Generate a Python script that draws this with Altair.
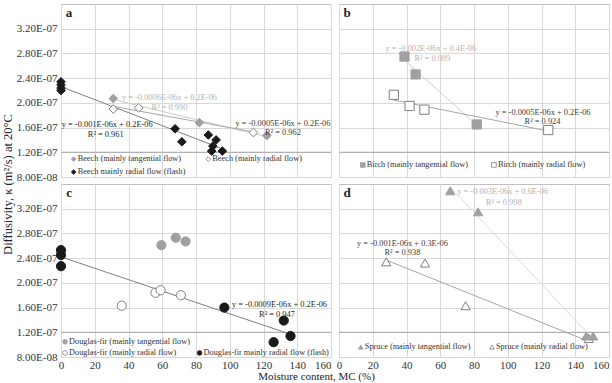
import altair as alt
import pandas as pd

# ---------------------------------------------------------------
# Thermal diffusivity (m^2/s) versus moisture content (%)
# ---------------------------------------------------------------
# Beech
beech_tan_mc = [31.0, 82.0, 122.0]
beech_tan_k = [2.07e-7, 1.68e-7, 1.47e-7]
beech_rad_mc = [31.0, 46.0, 114.0]
beech_rad_k = [1.90e-7, 1.92e-7, 1.52e-7]
beech_flash_mc = [0.0, 0.0, 0.0, 0.0, 67.6, 71.6, 87.3, 91.9, 90.0, 89.3, 95.6]
beech_flash_k = [2.34e-7, 2.29e-7, 2.24e-7, 2.20e-7, 1.58e-7, 1.37e-7,
                 1.48e-7, 1.40e-7, 1.30e-7, 1.22e-7, 1.22e-7]
# Birch
birch_tan_mc = [38.8, 45.4, 81.6]
birch_tan_k = [2.75e-7, 2.46e-7, 1.65e-7]
birch_rad_mc = [32.5, 41.8, 50.6, 124.0]
birch_rad_k = [2.13e-7, 1.95e-7, 1.89e-7, 1.56e-7]
# Douglas-fir
dfir_tan_mc = [59.5, 68.0, 73.8]
dfir_tan_k = [2.61e-7, 2.73e-7, 2.67e-7]
dfir_rad_mc = [36.0, 56.0, 59.0, 71.0]
dfir_rad_k = [1.63e-7, 1.84e-7, 1.88e-7, 1.80e-7]
dfir_flash_mc = [0.0, 0.0, 0.0, 96.8, 126.0, 132.0, 136.0]
dfir_flash_k = [2.53e-7, 2.45e-7, 2.27e-7, 1.60e-7, 1.04e-7, 1.39e-7, 1.14e-7]
# Spruce
spruce_tan_mc = [65.9, 82.4, 146.5, 150.6]
spruce_tan_k = [3.49e-7, 3.15e-7, 1.14e-7, 1.14e-7]
spruce_rad_mc = [28.0, 51.0, 75.0, 148.0]
spruce_rad_k = [2.34e-7, 2.32e-7, 1.63e-7, 1.10e-7]

# Axis ticks
x_ticks = [0, 20, 40, 60, 80, 100, 120, 140, 160]
y_ticks = [8e-8, 1.2e-7, 1.6e-7, 2.0e-7, 2.4e-7, 2.8e-7, 3.2e-7]
X_DOMAIN = [0, 160]
Y_DOMAIN = [8e-8, 3.6e-7]

# Trend-line equations: (series key, equation, R^2 text, eq position, R^2 position)
beech_eqs = [
    ("tan", "y = -0.0006E-06x + 0.2E-06", "R² = 0.990", (64.3, 2.10e-7), (64.3, 1.94e-7)),
    ("rad", "y = -0.0005E-06x + 0.2E-06", "R² = 0.962", (131.5, 1.68e-7), (131.5, 1.53e-7)),
    ("flash", "y = -0.001E-06x + 0.2E-06", "R² = 0.961", (27.4, 1.65e-7), (26.5, 1.50e-7)),
]
birch_eqs = [
    ("tan", "y = -0.002E-06x + 0.4E-06", "R² = 0.989", (54.4, 2.88e-7), (55.3, 2.73e-7)),
    ("rad", "y = -0.0005E-06x + 0.2E-06", "R² = 0.924", (120.9, 1.86e-7), (120.6, 1.71e-7)),
]
dfir_eqs = [
    ("flash", "y = -0.0009E-06x + 0.2E-06", "R² = 0.947", (129.5, 1.665e-7), (128.0, 1.50e-7)),
]
spruce_eqs = [
    ("tan", "y = -0.003E-06x + 0.6E-06", "R² = 0.998", (97.0, 3.48e-7), (97.6, 3.31e-7)),
    ("rad", "y = -0.001E-06x + 0.3E-06", "R² = 0.938", (37.6, 2.64e-7), (37.6, 2.50e-7)),
]

# Legend entries: (series key, text, anchor)
beech_legend = [
    ("tan", "Beech (mainly tangential flow)", (7.5, 1.09e-7)),
    ("rad", "Beech (mainly radial flow)", (87.3, 1.09e-7)),
    ("flash", "Beech mainly radial flow (flash)", (7.5, 0.88e-7)),
]
birch_legend = [
    ("tan", "Birch (mainly tangential flow)", (14.1, 0.995e-7)),
    ("rad", "Birch (mainly radial flow)", (91.8, 0.995e-7)),
]
dfir_legend = [
    ("tan", "Douglas-fir (mainly tangential flow)", (2.4, 1.045e-7)),
    ("rad", "Douglas-fir (mainly radial flow)", (2.4, 0.865e-7)),
    ("flash", "Douglas-fir mainly radial flow (flash)", (82.1, 0.865e-7)),
]
spruce_legend = [
    ("tan", "Spruce (mainly tangential flow)", (12.9, 0.96e-7)),
    ("rad", "Spruce (mainly radial flow)", (90.6, 0.96e-7)),
]

# ---------------------------------------------------------------
# Styling
# ---------------------------------------------------------------
FONT = "Liberation Serif"
GRID = "#d9d9d9"
FRAME = "#bfbfbf"
BOX = "#a6a6a6"
TEXT = "#333333"
W, H = 270, 173

MARKER = {
    "tan": dict(fill="#a0a0a0", stroke="#a0a0a0"),
    "rad": dict(fill="#ffffff", stroke="#7f7f7f"),
    "flash": dict(fill="#1a1a1a", stroke="#1a1a1a"),
}
EQ_COLOR = {"tan": "#b3b3b3", "rad": "#404040", "flash": "#262626"}


def x_enc(show_labels, title=None, flush_last=False, title_pos=None):
    kw = dict(values=x_ticks, grid=True, gridColor=GRID, gridWidth=1,
              domain=False, ticks=False, labels=show_labels,
              labelFont=FONT, labelFontSize=11, labelColor=TEXT, labelPadding=2)
    if flush_last:
        kw["labelAlign"] = {"condition": {"test": "datum.value === 160", "value": "right"},
                            "value": "center"}
    if title:
        kw.update(title=title, titleFont=FONT, titleFontSize=11, titleFontWeight="normal",
                  titleColor="#222222", titleBaseline="middle",
                  titleX=title_pos[0], titleY=title_pos[1])
    else:
        kw["title"] = None
    return alt.X("mc:Q", scale=alt.Scale(domain=X_DOMAIN, nice=False, zero=False),
                 axis=alt.Axis(**kw))


def y_enc(show_labels, title=None, title_pos=None):
    kw = dict(values=y_ticks, grid=True, gridColor=GRID, gridWidth=1,
              domain=False, ticks=False, labels=show_labels,
              labelFont=FONT, labelFontSize=11, labelColor=TEXT, labelPadding=4,
              labelExpr="replace(upper(format(datum.value, '.2e')), 'E-', 'E-0')")
    if title:
        kw.update(title=title, titleFont=FONT, titleFontSize=12.5, titleFontWeight="normal",
                  titleColor="#222222", titleX=title_pos[0], titleY=title_pos[1])
    else:
        kw["title"] = None
    return alt.Y("k:Q", scale=alt.Scale(domain=Y_DOMAIN, nice=False, zero=False),
                 axis=alt.Axis(**kw))


def frame(mc, k):
    return pd.DataFrame({"mc": mc, "k": k})


def panel(letter, shape, series, trends, eqs, legend, xe, ye):
    layers = []
    # top edge of the in-plot legend box
    layers.append(
        alt.Chart(frame([0], [1.2e-7])).mark_rule(color=BOX, strokeWidth=1)
        .encode(y=ye)
    )
    # linear trend lines
    for key, color in trends:
        mc, k = series[key]
        layers.append(
            alt.Chart(frame(mc, k)).transform_regression("mc", "k")
            .mark_line(color=color, strokeWidth=1)
            .encode(x=xe, y=ye)
        )
    # measured points (white series first, dark on top)
    for key in ["rad", "tan", "flash"]:
        if key not in series:
            continue
        mc, k = series[key]
        st = MARKER[key]
        layers.append(
            alt.Chart(frame(mc, k)).mark_point(
                shape=shape, filled=True, fill=st["fill"], stroke=st["stroke"],
                strokeWidth=1, size=85 if shape != "diamond" else 75, opacity=1)
            .encode(x=xe, y=ye)
        )
    # equations and R^2
    for key, eq, r2, p_eq, p_r2 in eqs:
        df = pd.DataFrame({"mc": [p_eq[0], p_r2[0]], "k": [p_eq[1], p_r2[1]], "t": [eq, r2]})
        layers.append(
            alt.Chart(df).mark_text(font=FONT, fontSize=8.4, color=EQ_COLOR[key],
                                    align="center", baseline="middle")
            .encode(x=xe, y=ye, text="t:N")
        )
    # legend entries
    for key, label, pos in legend:
        st = MARKER[key]
        layers.append(
            alt.Chart(frame([pos[0]], [pos[1]])).mark_point(
                shape=shape, filled=True, fill=st["fill"], stroke=st["stroke"],
                strokeWidth=0.8, size=22, opacity=1)
            .encode(x=xe, y=ye)
        )
        layers.append(
            alt.Chart(pd.DataFrame({"mc": [pos[0]], "k": [pos[1]], "t": [label]}))
            .mark_text(font=FONT, fontSize=8.3, color=TEXT, align="left",
                       baseline="middle", dx=4)
            .encode(x=xe, y=ye, text="t:N")
        )
    # panel letter
    layers.append(
        alt.Chart(pd.DataFrame({"mc": [4.8], "k": [3.46e-7], "t": [letter]}))
        .mark_text(font=FONT, fontSize=13, fontWeight="bold", color="#222222",
                   align="center", baseline="middle")
        .encode(x=xe, y=ye, text="t:N")
    )
    return alt.layer(*layers).properties(width=W, height=H)


Y_TITLE = "Diffusivity, κ (m²/s) at 20°C"
X_TITLE = "Moisture content, MC (%)"

pa = panel("a", "diamond",
           {"tan": (beech_tan_mc, beech_tan_k), "rad": (beech_rad_mc, beech_rad_k),
            "flash": (beech_flash_mc, beech_flash_k)},
           [("tan", "#cccccc"), ("rad", "#a6a6a6"), ("flash", "#808080")],
           beech_eqs, beech_legend,
           x_enc(False), y_enc(True))

pb = panel("b", "square",
           {"tan": (birch_tan_mc, birch_tan_k), "rad": (birch_rad_mc, birch_rad_k)},
           [("tan", "#d0d0d0"), ("rad", "#a6a6a6")],
           birch_eqs, birch_legend,
           x_enc(False), y_enc(False))

pc = panel("c", "circle",
           {"tan": (dfir_tan_mc, dfir_tan_k), "rad": (dfir_rad_mc, dfir_rad_k),
            "flash": (dfir_flash_mc, dfir_flash_k)},
           [("flash", "#808080")],
           dfir_eqs, dfir_legend,
           x_enc(True, X_TITLE, flush_last=True, title_pos=(255, 19)),
           y_enc(True, Y_TITLE, title_pos=(-47, 0)))

pd_ = panel("d", "triangle-up",
            {"tan": (spruce_tan_mc, spruce_tan_k), "rad": (spruce_rad_mc, spruce_rad_k)},
            [("tan", "#dadada"), ("rad", "#a6a6a6")],
            spruce_eqs, spruce_legend,
            x_enc(True, flush_last=True), y_enc(False))

chart = (
    alt.concat(pa, pb, pc, pd_, columns=2, spacing={"row": 7, "column": 8}, bounds="flush")
    .configure(padding={"left": 0, "top": 3, "right": 0, "bottom": 0}, background="white")
    .configure_view(stroke=FRAME, strokeWidth=1)
)

chart.save("out.html", embed_options={"renderer": "svg", "actions": False})
